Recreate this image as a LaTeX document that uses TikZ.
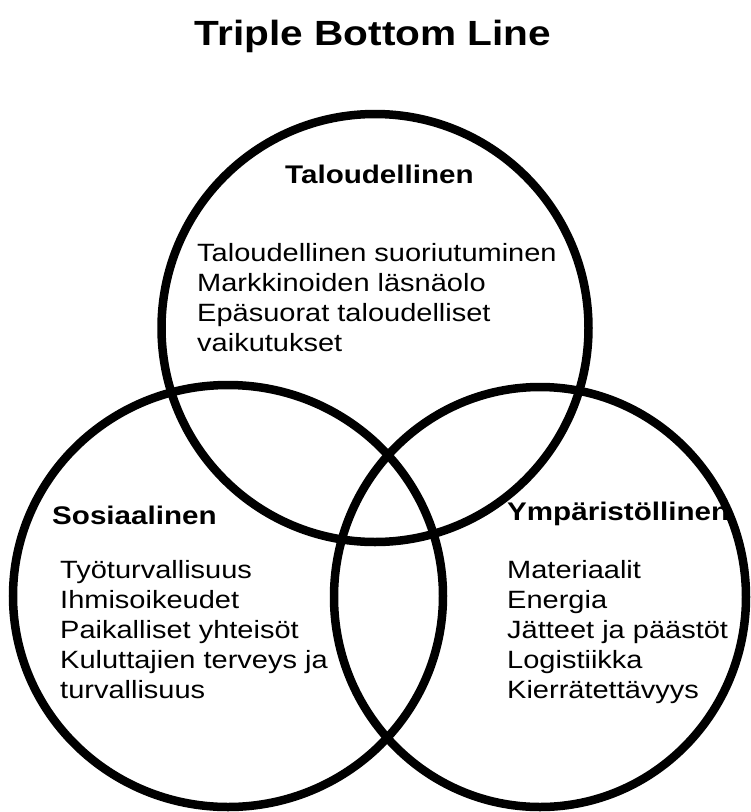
\documentclass[tikz,border=0pt]{standalone}
\usepackage{fontspec}
\usetikzlibrary{shapes.geometric}

\newfontfamily\tblfont[FakeStretch=1.16]{Liberation Sans}

\tikzset{
    ring/.style     = {draw=black, line width=8.5pt, ellipse, inner sep=0pt},
    bigtitle/.style = {font=\tblfont\bfseries\fontsize{35}{42}\selectfont, inner sep=0pt},
    head/.style     = {font=\tblfont\bfseries\fontsize{25.5}{30}\selectfont, inner sep=0pt},
    items/.style    = {font=\tblfont\fontsize{25}{30}\selectfont, align=left, inner sep=0pt}
}

\begin{document}
\begin{tikzpicture}[x=1pt, y=-1pt]

    \useasboundingbox (0,0) rectangle (751,812);

    \node[bigtitle, anchor=base] (tbl) at (373,45) {Triple Bottom Line};

    % the three pillars
    \node[ring, minimum width=427pt, minimum height=428pt] (talous)  at (375,328) {};
    \node[ring, minimum width=430pt, minimum height=422pt] (sosiaal) at (228,596) {};
    \node[ring, minimum width=412pt, minimum height=420pt] (ymparis) at (540,597) {};

    \node[head, anchor=base west] (econ) at (285,183) {Taloudellinen};
    \node[items, anchor=north west] (econlist) at (197,243)
        {Taloudellinen suoriutuminen\\Markkinoiden läsnäolo\\Epäsuorat taloudelliset\\vaikutukset};

    \node[head, anchor=base west] (soc) at (52,524) {Sosiaalinen};
    \node[items, anchor=north west] (soclist) at (60,560)
        {Työturvallisuus\\Ihmisoikeudet\\Paikalliset yhteisöt\\Kuluttajien terveys ja\\turvallisuus};

    \node[head, anchor=base west] (env) at (507,520) {Ympäristöllinen};
    \node[items, anchor=north west] (envlist) at (507,560)
        {Materiaalit\\Energia\\Jätteet ja päästöt\\Logistiikka\\Kierrätettävyys};

\end{tikzpicture}
\end{document}
